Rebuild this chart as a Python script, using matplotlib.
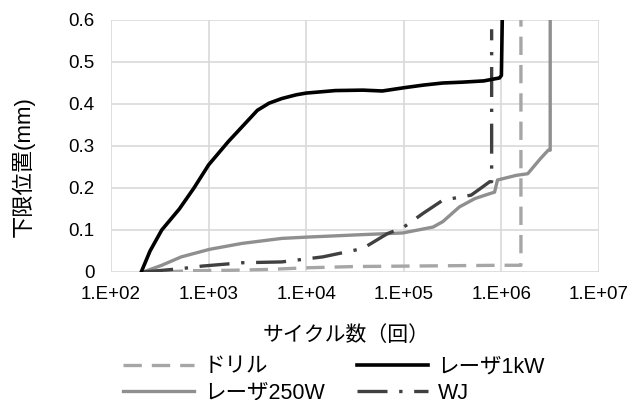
import numpy as np
import matplotlib.pyplot as plt

plt.rcParams['font.family'] = ['Liberation Sans', 'Noto Sans CJK JP']

# log10(サイクル数), 下限位置(mm)
laser1k_logx = [2.31, 2.4, 2.52, 2.7, 2.85, 3.0, 3.2, 3.4, 3.5, 3.62, 3.75, 3.9, 4.0, 4.3,
                4.58, 4.78, 5.01, 5.2, 5.4, 5.6, 5.82, 5.98, 6.0, 6.01]
laser1k_y = [0.0, 0.05, 0.1, 0.15, 0.2, 0.255, 0.31, 0.36, 0.385, 0.402, 0.413, 0.422, 0.426, 0.432,
             0.433, 0.431, 0.439, 0.445, 0.45, 0.452, 0.455, 0.462, 0.468, 0.62]

laser250_logx = [2.33, 2.52, 2.72, 3.01, 3.34, 3.75, 4.0, 4.58, 4.99, 5.3, 5.4, 5.57, 5.73,
                 5.9, 5.93, 5.96, 6.15, 6.27, 6.4, 6.48, 6.5, 6.5]
laser250_y = [0.0, 0.016, 0.036, 0.054, 0.068, 0.08, 0.083, 0.089, 0.093, 0.107, 0.12, 0.155, 0.175,
              0.188, 0.19, 0.219, 0.23, 0.234, 0.27, 0.29, 0.29, 0.62]

drill_logx = [2.55, 2.8, 3.2, 3.6, 4.0, 4.5, 5.0, 5.5, 6.0, 6.15, 6.2, 6.2]
drill_y = [0.0, 0.003, 0.004, 0.006, 0.01, 0.013, 0.014, 0.015, 0.016, 0.016, 0.016, 0.62]

wj_logx = [2.33, 2.72, 2.93, 3.34, 3.75, 4.17, 4.58, 4.83, 5.0, 5.2, 5.4, 5.69, 5.81, 5.88,
           5.9, 5.9]
wj_y = [0.0, 0.008, 0.014, 0.022, 0.024, 0.036, 0.056, 0.091, 0.107, 0.14, 0.171, 0.183, 0.203,
        0.215, 0.215, 0.578]

xticks = [1e2, 1e3, 1e4, 1e5, 1e6, 1e7]
xticklabels = ["1.E+02", "1.E+03", "1.E+04", "1.E+05", "1.E+06", "1.E+07"]
yticks = [0, 0.1, 0.2, 0.3, 0.4, 0.5, 0.6]
yticklabels = ["0", "0.1", "0.2", "0.3", "0.4", "0.5", "0.6"]

W, H = 631, 400
fig = plt.figure(figsize=(W / 100, H / 100), dpi=100)
ax = fig.add_axes([111 / W, 1 - 272 / H, (599 - 111) / W, (272 - 20) / H])

l_drill, = ax.plot(10 ** np.array(drill_logx), drill_y, color="#a6a6a6", lw=2.4,
                   dashes=(5.5, 3), label="ドリル")
l_250, = ax.plot(10 ** np.array(laser250_logx), laser250_y, color="#8f8f8f", lw=2.4,
                 label="レーザ250W")
l_wj, = ax.plot(10 ** np.array(wj_logx), wj_y, color="#404040", lw=2.4,
                dashes=(9, 3.5, 1, 3.5), label="WJ")
l_1k, = ax.plot(10 ** np.array(laser1k_logx), laser1k_y, color="#000000", lw=2.6,
                label="レーザ1kW")

ax.set_xscale("log")
ax.set_xlim(1e2, 1e7)
ax.set_ylim(0, 0.6)
ax.set_xticks(xticks)
ax.set_xticklabels(xticklabels)
ax.minorticks_off()
ax.set_yticks(yticks)
ax.set_yticklabels(yticklabels)
ax.tick_params(length=0, labelsize=13.5)
ax.tick_params(axis="x", pad=10)
ax.tick_params(axis="y", pad=12)
ax.grid(True, color="#d9d9d9", lw=1.2)
ax.set_axisbelow(True)
for s in ax.spines.values():
    s.set_visible(False)

ax.set_xlabel("サイクル数（回）", fontsize=15)
ax.xaxis.set_label_coords((346 - 111) / (599 - 111), -(335 - 272) / (272 - 20))
ax.xaxis.label.set_va("center")
ax.set_ylabel("下限位置(mm)", fontsize=16)
ax.yaxis.set_label_coords(-(111 - 23) / (599 - 111), (272 - 167) / (272 - 20))
ax.yaxis.label.set_va("center")

fig.legend(handles=[l_drill, l_250, l_1k, l_wj], ncol=2, loc="center left",
           bbox_to_anchor=(123 / W, 1 - 380 / H), frameon=False, fontsize=15.5,
           borderpad=0, borderaxespad=0,
           handlelength=3.3, columnspacing=1.5, handletextpad=0.45, labelspacing=0.27)

fig.savefig("out.png", dpi=100)
